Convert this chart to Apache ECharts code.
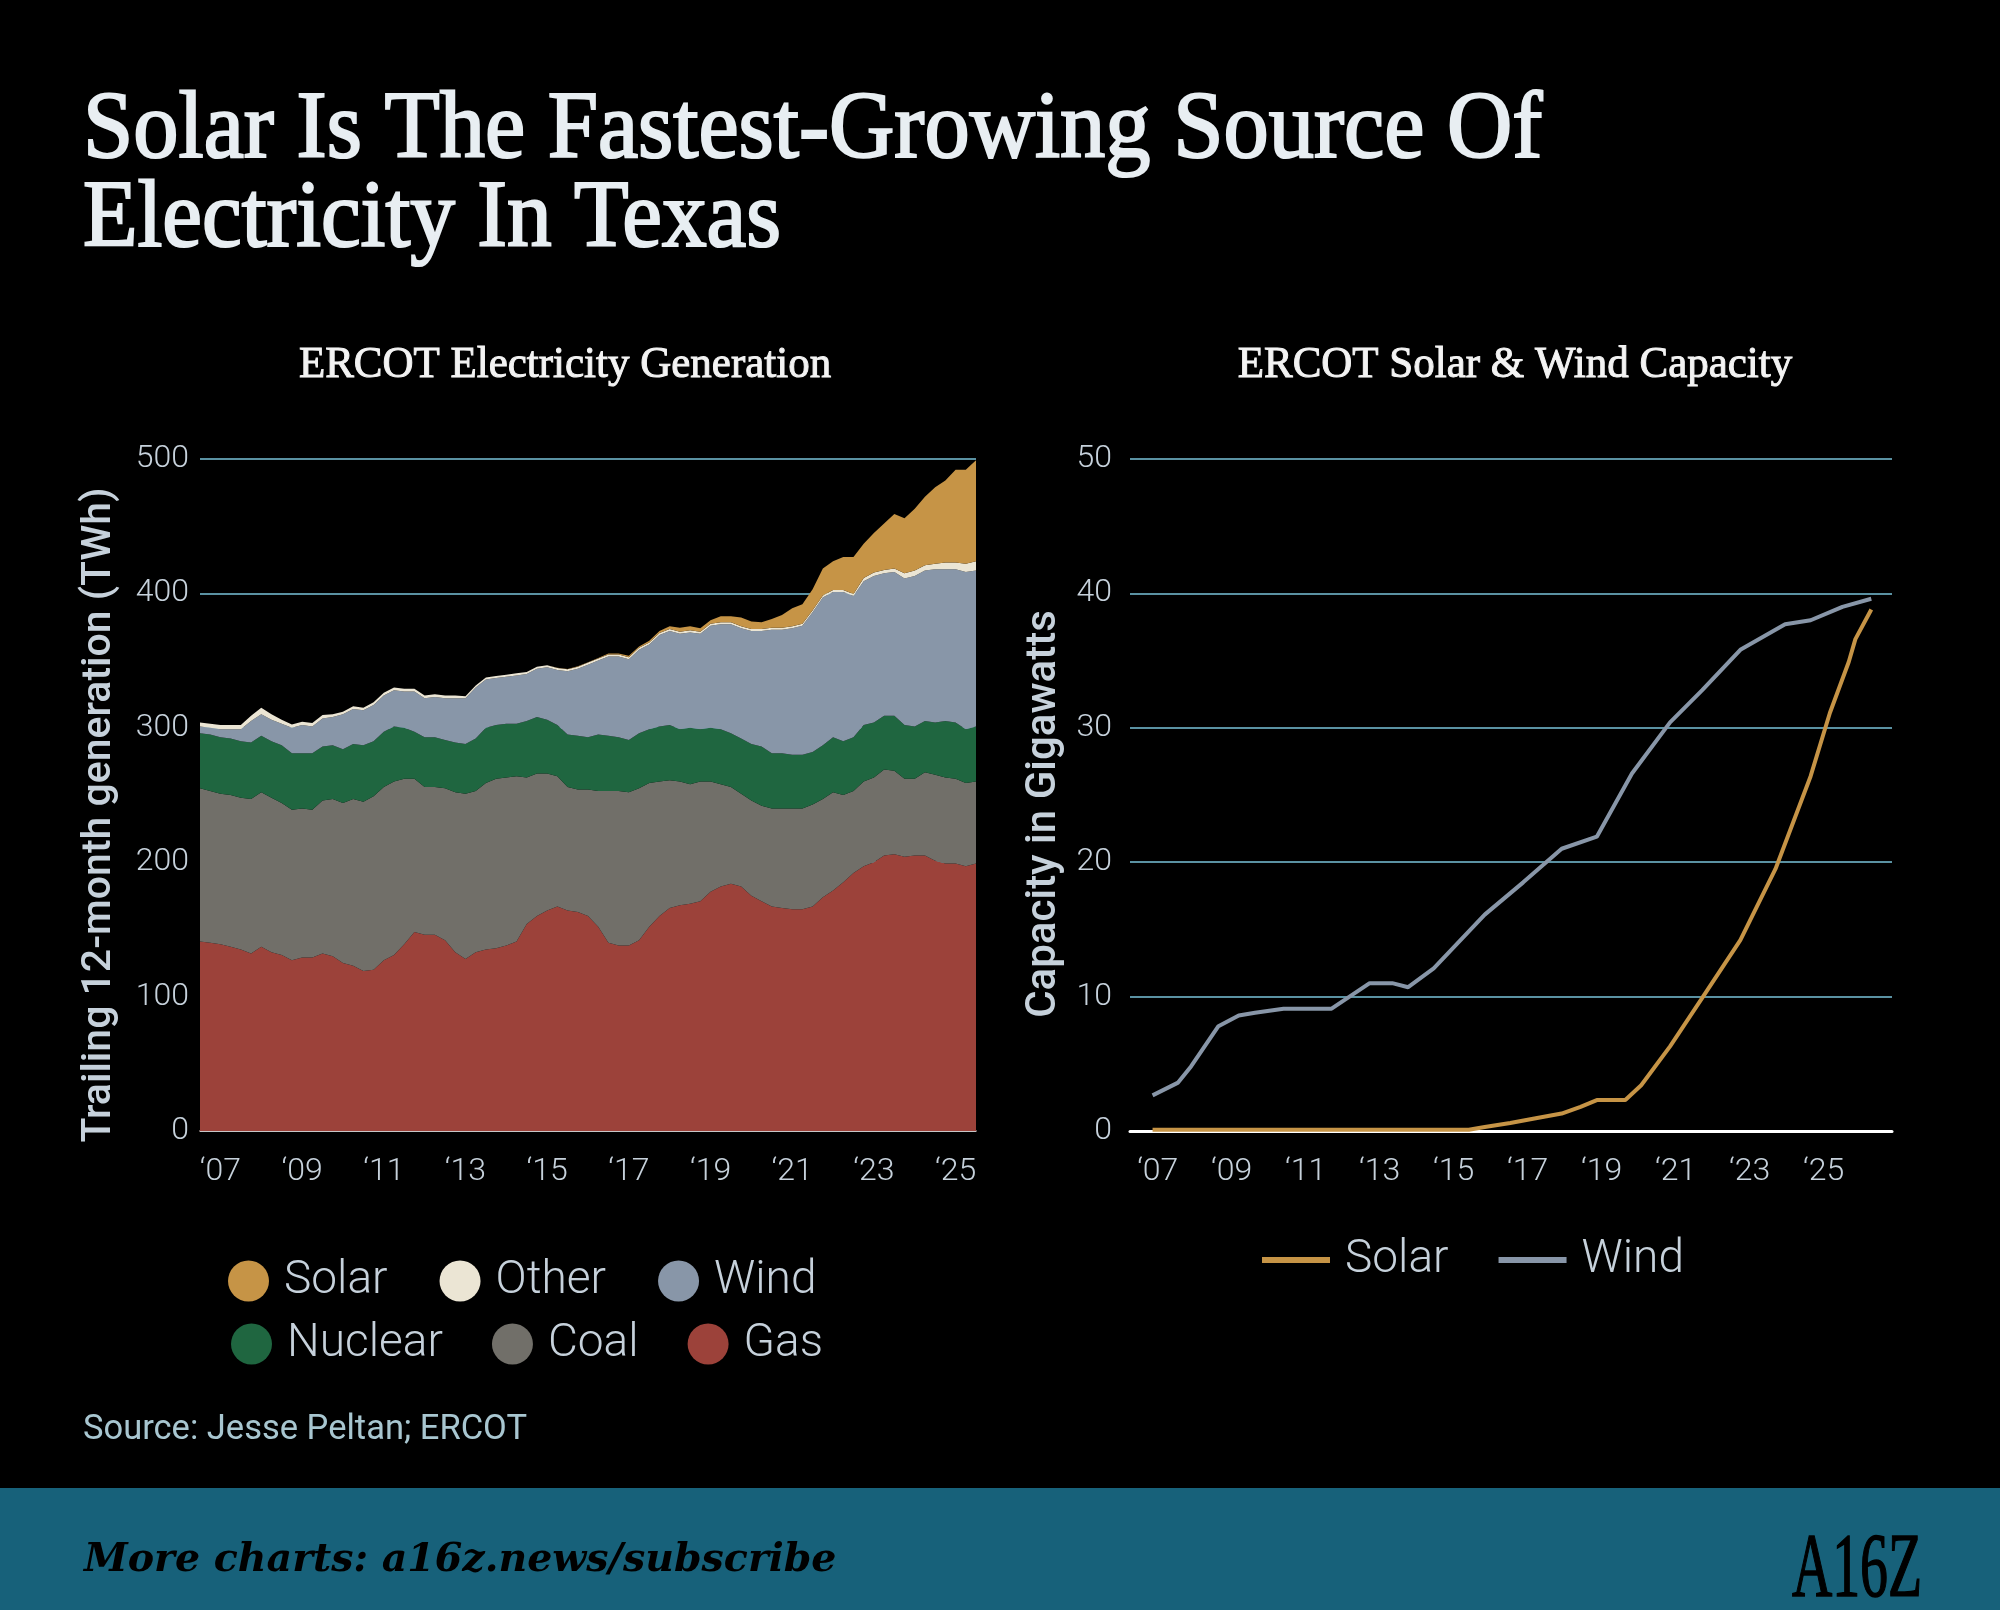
<!DOCTYPE html>
<html>
<head>
<meta charset="utf-8">
<script src="https://cdn.jsdelivr.net/npm/echarts@6.0.0/dist/echarts.min.js"></script>
<style>
  html, body { margin: 0; padding: 0; background: #000; }
  #chart { width: 2000px; height: 1610px; }
</style>
</head>
<body>
<div id="chart"></div>
<script>
// quarterly points, trailing 12-month generation (TWh)
var quarters = [
  '2006-07', '2006-10',
  '2007-01', '2007-04', '2007-07', '2007-10',
  '2008-01', '2008-04', '2008-07', '2008-10',
  '2009-01', '2009-04', '2009-07', '2009-10',
  '2010-01', '2010-04', '2010-07', '2010-10',
  '2011-01', '2011-04', '2011-07', '2011-10',
  '2012-01', '2012-04', '2012-07', '2012-10',
  '2013-01', '2013-04', '2013-07', '2013-10',
  '2014-01', '2014-04', '2014-07', '2014-10',
  '2015-01', '2015-04', '2015-07', '2015-10',
  '2016-01', '2016-04', '2016-07', '2016-10',
  '2017-01', '2017-04', '2017-07', '2017-10',
  '2018-01', '2018-04', '2018-07', '2018-10',
  '2019-01', '2019-04', '2019-07', '2019-10',
  '2020-01', '2020-04', '2020-07', '2020-10',
  '2021-01', '2021-04', '2021-07', '2021-10',
  '2022-01', '2022-04', '2022-07', '2022-10',
  '2023-01', '2023-04', '2023-07', '2023-10',
  '2024-01', '2024-04', '2024-07', '2024-10',
  '2025-01', '2025-04', '2025-07'
];

var gas = [
  141, 140, 139, 137, 135, 132, 137, 133, 131, 127,
  129, 129, 132, 130, 125, 123, 119, 120, 127, 131,
  139, 148, 146, 146, 142, 133, 128, 133, 135, 136,
  138, 141, 154, 160, 164, 167, 164, 163, 160, 152,
  140, 138, 138, 142, 152, 160, 166, 168, 169, 171,
  178, 182, 184, 182, 175, 171, 167, 166, 165, 165,
  167, 174, 179, 185, 192, 197, 200, 205, 206, 204,
  205, 205, 201, 199, 199, 197, 199
];
var coal = [
  114, 113, 112, 113, 113, 115, 115, 115, 113, 112,
  111, 110, 114, 117, 119, 124, 126, 129, 129, 129,
  123, 114, 110, 110, 113, 119, 123, 120, 124, 126,
  125, 123, 109, 106, 102, 97, 92, 91, 94, 101,
  113, 115, 114, 113, 107, 100, 95, 92, 89, 89,
  82, 76, 72, 69, 71, 71, 73, 74, 75, 75,
  76, 73, 73, 65, 61, 63, 63, 64, 62, 58,
  57, 62, 64, 64, 63, 62, 61
];
var nuclear = [
  41, 42, 42, 42, 42, 42, 42, 42, 43, 42,
  41, 42, 40, 40, 40, 41, 42, 41, 41, 41,
  38, 35, 37, 37, 36, 37, 37, 39, 41, 40,
  40, 39, 42, 42, 40, 38, 39, 40, 39, 42,
  41, 40, 39, 41, 40, 41, 41, 39, 42, 39,
  40, 41, 40, 41, 42, 44, 41, 41, 40, 40,
  39, 40, 41, 40, 40, 42, 41, 40, 41, 40,
  39, 38, 39, 42, 42, 40, 41
];
var wind = [
  5, 5, 6, 7, 9, 16, 16, 16, 16, 19,
  21, 20, 21, 21, 26, 26, 26, 27, 27, 27,
  27, 30, 29, 30, 31, 33, 34, 38, 36, 35,
  35, 36, 35, 36, 39, 41, 47, 50, 54, 55,
  59, 60, 60, 62, 63, 68, 70, 71, 71, 71,
  76, 78, 81, 82, 84, 86, 92, 92, 94, 96,
  104, 110, 108, 111, 105, 107, 109, 106, 107, 109,
  112, 112, 114, 113, 114, 117, 116
];
var other = [
  3, 3, 3, 3, 3, 4, 5, 4, 3, 2.5,
  2.5, 2.5, 2.5, 2, 2, 2, 2, 2, 2, 2,
  2, 2, 2, 2, 2, 2, 1.5, 1.5, 1.5, 1.5,
  1.5, 1.5, 1.5, 1.5, 1.5, 1.5, 1.5, 1.5, 1.5, 1.5,
  1.5, 1.5, 1.5, 1.5, 1.5, 1.5, 1.5, 1.5, 1.5, 1.5,
  1.5, 1.5, 1.5, 1.5, 1.5, 1.5, 1.5, 1.5, 1.5, 1.5,
  1.5, 1.5, 1.5, 1.5, 1.5, 2.5, 2.5, 2.5, 2.5, 4,
  4, 4, 4, 5, 5, 6, 7
];
var solar = [
  0, 0, 0, 0, 0, 0, 0, 0, 0, 0,
  0, 0, 0, 0, 0, 0, 0, 0, 0, 0,
  0, 0, 0, 0, 0, 0, 0, 0, 0, 0,
  0, 0, 0, 0, 0, 0.2, 0.3, 0.3, 0.3, 0.5,
  0.8, 0.8, 1.2, 1, 1.2, 1.5, 2, 3, 3, 2.5,
  2.5, 4.5, 4.5, 6.5, 5.5, 5, 6.5, 9.5, 13.5, 14.5,
  15.5, 20, 21.5, 24.5, 27.5, 25.5, 29.5, 34.5, 40.5, 41,
  46, 51, 57, 61, 69, 70, 75
];
var genTickCats = ['2007-01', '2009-01', '2011-01', '2013-01', '2015-01',
  '2017-01', '2019-01', '2021-01', '2023-01', '2025-01'];
var yearTickLabels = ['‘07', '‘09', '‘11', '‘13', '‘15', '‘17', '‘19', '‘21', '‘23', '‘25'];

// installed capacity (GW)
var windYears = [2006.86, 2007.55, 2007.9, 2008.64, 2009.19, 2009.63, 2010.4, 2011.7,
  2012.73, 2013.34, 2013.77, 2014.46, 2015.84, 2016.88, 2017.92, 2018.87, 2019.82,
  2020.85, 2021.72, 2022.75, 2023.96, 2024.65, 2025.51, 2026.29];
var windGW = [2.65, 3.6, 4.8, 7.8, 8.6, 8.8, 9.1, 9.1,
  11.0, 11.0, 10.7, 12.1, 16.1, 18.5, 21.0, 21.9, 26.6,
  30.4, 32.8, 35.8, 37.7, 38.0, 39.0, 39.6];
var solarYears = [2006.86, 2015.41, 2015.84, 2016.53, 2017.22, 2017.92, 2018.43, 2018.87,
  2019.64, 2020.07, 2020.85, 2021.72, 2022.75, 2023.7, 2024.65, 2025.17, 2025.68,
  2025.86, 2026.29];
var solarGW = [0.1, 0.1, 0.3, 0.6, 0.95, 1.3, 1.8, 2.3,
  2.3, 3.4, 6.3, 9.9, 14.2, 19.5, 26.4, 31.1, 34.9,
  36.6, 38.8];
var capTickYears = [2007, 2009, 2011, 2013, 2015, 2017, 2019, 2021, 2023, 2025];

var colors = {
  Solar: '#c69446', Other: '#ebe5d4', Wind: '#8896a8',
  Nuclear: '#1f6640', Coal: '#716f69', Gas: '#9c423a'
};
var labelColor = '#c6d1db';
var gridColor = '#5a91a2';
var sans = 'Roboto, "Noto Sans", sans-serif';
var serif = '"Liberation Serif", "DejaVu Serif", serif';

function zip(xs, ys) {
  return xs.map(function (x, i) { return [x, ys[i]]; });
}

function areaSeries(name, data) {
  return {
    name: name,
    type: 'line',
    stack: 'gen',
    data: data,
    symbol: 'none',
    color: colors[name],
    lineStyle: { width: 0 },
    areaStyle: { color: colors[name], opacity: 1 },
    xAxisIndex: 0,
    yAxisIndex: 0
  };
}

// serif headings: regular face thickened a little with a stroke
function heading(text, x, y, size, sx, align, fill, sw) {
  return {
    type: 'text', x: x, y: y, scaleX: sx,
    style: {
      text: text, fill: fill, stroke: fill, lineWidth: sw,
      font: size + 'px ' + serif, textAlign: align, textVerticalAlign: 'middle'
    }
  };
}

var legendText = {
  color: labelColor, fontSize: 46, fontFamily: sans, fontWeight: 300,
  padding: [0, 0, 0, 10]
};
var tickText = { color: labelColor, fontSize: 32, fontFamily: sans, fontWeight: 300 };

var chart = echarts.init(document.getElementById('chart'));
var option = {
  backgroundColor: '#000',
  animation: false,
  graphic: [
    heading('Solar Is The Fastest-Growing Source Of', 83, 132, 95, 0.952, 'left', '#e8eef2', 2.2),
    heading('Electricity In Texas', 83, 221, 95, 0.94, 'left', '#e8eef2', 2.2),
    heading('ERCOT Electricity Generation', 565, 365, 45, 0.955, 'center', '#f3f3f3', 1),
    heading('ERCOT Solar & Wind Capacity', 1515, 365, 45, 0.955, 'center', '#f3f3f3', 1),
    { type: 'text', x: 100, y: 815, rotation: Math.PI / 2,
      style: { text: 'Trailing 12-month generation (TWh)', fill: labelColor,
        font: '500 41px ' + sans, textAlign: 'center', textVerticalAlign: 'middle' } },
    { type: 'text', x: 1044, y: 814, rotation: Math.PI / 2,
      style: { text: 'Capacity in Gigawatts', fill: labelColor,
        font: '500 42px ' + sans, textAlign: 'center', textVerticalAlign: 'middle' } },
    { type: 'text', x: 83, y: 1430,
      style: { text: 'Source: Jesse Peltan; ERCOT', fill: '#a8c6d0',
        font: '34.5px ' + sans, textAlign: 'left', textVerticalAlign: 'middle' } },
    { type: 'rect', shape: { x: 0, y: 1488, width: 2000, height: 122 },
      style: { fill: '#17617a' } },
    { type: 'text', x: 84, y: 1561,
      style: { text: 'More charts: a16z.news/subscribe', fill: '#000',
        font: 'italic bold 39.5px "DejaVu Serif", serif',
        textAlign: 'left', textVerticalAlign: 'middle' } },
    { type: 'text', x: 1857, y: 1572, scaleX: 0.62,
      style: { text: 'A16Z', fill: '#000', stroke: '#000', lineWidth: 1.5,
        font: '90px ' + serif, textAlign: 'center', textVerticalAlign: 'middle' } }
  ],
  legend: [
    { data: ['Solar', 'Other', 'Wind'], left: 228, top: 1258, padding: 0,
      icon: 'circle', itemWidth: 41, itemHeight: 41, itemGap: 52,
      selectedMode: false, textStyle: legendText },
    { data: ['Nuclear', 'Coal', 'Gas'], left: 231, top: 1321, padding: 0,
      icon: 'circle', itemWidth: 41, itemHeight: 41, itemGap: 49,
      selectedMode: false, textStyle: legendText },
    { data: ['Solar capacity', 'Wind capacity'], left: 1262, top: 1237, padding: 0,
      icon: 'rect', itemWidth: 68, itemHeight: 6, itemGap: 50,
      selectedMode: false, textStyle: legendText,
      formatter: function (n) { return n.replace(' capacity', ''); } }
  ],
  grid: [
    { left: 200, top: 459, width: 776, height: 672 },
    { left: 1130, top: 459, width: 762, height: 672 }
  ],
  xAxis: [
    { type: 'category', gridIndex: 0, data: quarters, boundaryGap: false,
      axisLine: { show: true, lineStyle: { color: '#ead8d4', width: 1.5 } },
      axisTick: { show: false },
      splitLine: { show: false },
      axisLabel: Object.assign({}, tickText, {
        margin: 25,
        interval: function (i, v) { return genTickCats.indexOf(v) >= 0; },
        formatter: function (v) { return yearTickLabels[genTickCats.indexOf(v)]; }
      }) },
    { type: 'value', gridIndex: 1, min: 2006.25, max: 2026.85,
      axisLine: { show: true, onZero: false, lineStyle: { color: '#ffffff', width: 3 } },
      axisTick: { show: false },
      splitLine: { show: false },
      axisLabel: Object.assign({}, tickText, {
        margin: 25,
        customValues: capTickYears,
        formatter: function (v) { return yearTickLabels[capTickYears.indexOf(v)]; }
      }) }
  ],
  yAxis: [
    { type: 'value', gridIndex: 0, min: 0, max: 500, interval: 100,
      axisLine: { show: false }, axisTick: { show: false },
      splitLine: { lineStyle: { color: gridColor, width: 2 } },
      axisLabel: Object.assign({}, tickText, { margin: 11 }) },
    { type: 'value', gridIndex: 1, min: 0, max: 50, interval: 10,
      axisLine: { show: false }, axisTick: { show: false },
      splitLine: { lineStyle: { color: gridColor, width: 2 } },
      axisLabel: Object.assign({}, tickText, { margin: 18 }) }
  ],
  series: [
    areaSeries('Gas', gas),
    areaSeries('Coal', coal),
    areaSeries('Nuclear', nuclear),
    areaSeries('Wind', wind),
    areaSeries('Other', other),
    areaSeries('Solar', solar),
    { name: 'Solar capacity', type: 'line', xAxisIndex: 1, yAxisIndex: 1,
      data: zip(solarYears, solarGW), symbol: 'none', color: colors.Solar,
      lineStyle: { width: 4, color: colors.Solar } },
    { name: 'Wind capacity', type: 'line', xAxisIndex: 1, yAxisIndex: 1,
      data: zip(windYears, windGW), symbol: 'none', color: colors.Wind,
      lineStyle: { width: 4, color: colors.Wind } }
  ]
};
chart.setOption(option);
</script>
</body>
</html>
